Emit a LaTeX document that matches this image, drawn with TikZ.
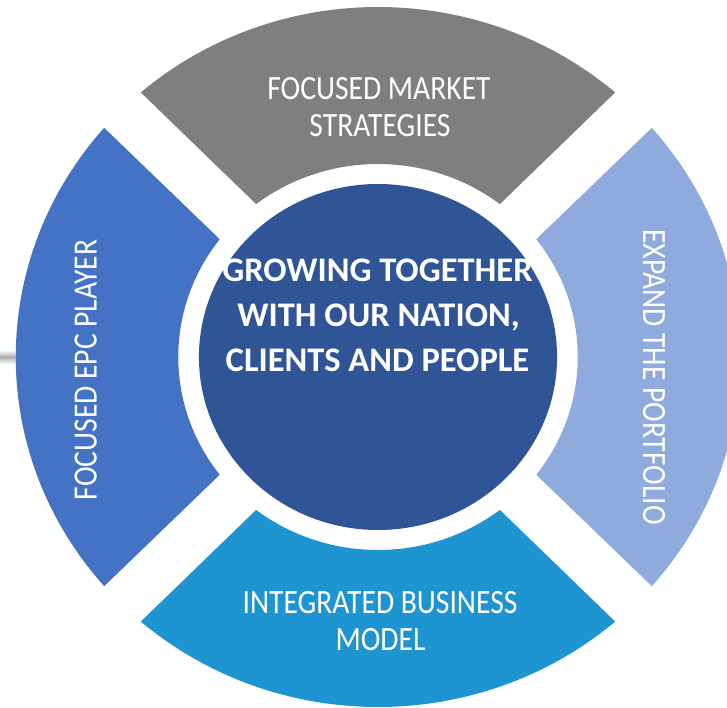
\documentclass[tikz,border=0pt]{standalone}
\usepackage{fontspec}
\setmainfont{Carlito}
\newfontfamily\segfont[FakeStretch=0.87]{Carlito}
\definecolor{cgray}{HTML}{7F7F7F}
\definecolor{cleft}{HTML}{4472C4}
\definecolor{cright}{HTML}{8FAADC}
\definecolor{cbottom}{HTML}{1E95D1}
\definecolor{ccenter}{HTML}{2F5597}
\begin{document}
\begin{tikzpicture}[x=1pt,y=-1pt,
  segtext/.style={text=white, font=\segfont\fontsize{34}{36}\selectfont, inner sep=0pt, anchor=base},
  ctext/.style={text=white, font=\bfseries\fontsize{34.5}{45}\selectfont, inner sep=0pt, anchor=base}]
\useasboundingbox (0,0) rectangle (727,708);
\fill[white] (0,0) rectangle (727,708);
\clip (0,0) rectangle (727,708);
\shade[top color=white,bottom color=white,middle color=black!32] (0,350) rectangle (16,364);
\begin{scope}[shift={(378,357)}, xscale=1.035, yscale=-1]
  % top
  \fill[cgray] (49.1:350) arc[start angle=49.1,end angle=130.9,radius=350]
    -- (127.6:193) arc[start angle=127.6,end angle=52.4,radius=193] -- cycle;
  % left
  \fill[cleft] (139.1:350) arc[start angle=139.1,end angle=220.9,radius=350]
    -- (217.6:193) arc[start angle=217.6,end angle=142.4,radius=193] -- cycle;
  % bottom
  \fill[cbottom] (229.1:350) arc[start angle=229.1,end angle=310.9,radius=350]
    -- (307.6:193) arc[start angle=307.6,end angle=232.4,radius=193] -- cycle;
  % right
  \fill[cright] (-40.9:350) arc[start angle=-40.9,end angle=40.9,radius=350]
    -- (37.6:193) arc[start angle=37.6,end angle=-37.6,radius=193] -- cycle;
  % centre
  \fill[ccenter] (0,0) circle[radius=173];
\end{scope}
\node[segtext] (t1) at (379,100) {FOCUSED MARKET};
\node[segtext] (t2) at (380,136.7) {STRATEGIES};
\node[segtext] (b1) at (380,613.3) {INTEGRATED BUSINESS};
\node[segtext] (b2) at (380.5,650.7) {MODEL};
\node[segtext, rotate=90] (l1) at (96.7,370) {FOCUSED EPC PLAYER};
\node[segtext, rotate=-90] (r1) at (643,377) {EXPAND THE PORTFOLIO};
\node[ctext] (c1) at (377.5,281) {GROWING TOGETHER};
\node[ctext] (c2) at (378.5,326) {WITH OUR NATION,};
\node[ctext] (c3) at (377.5,371) {CLIENTS AND PEOPLE};
\end{tikzpicture}
\end{document}
